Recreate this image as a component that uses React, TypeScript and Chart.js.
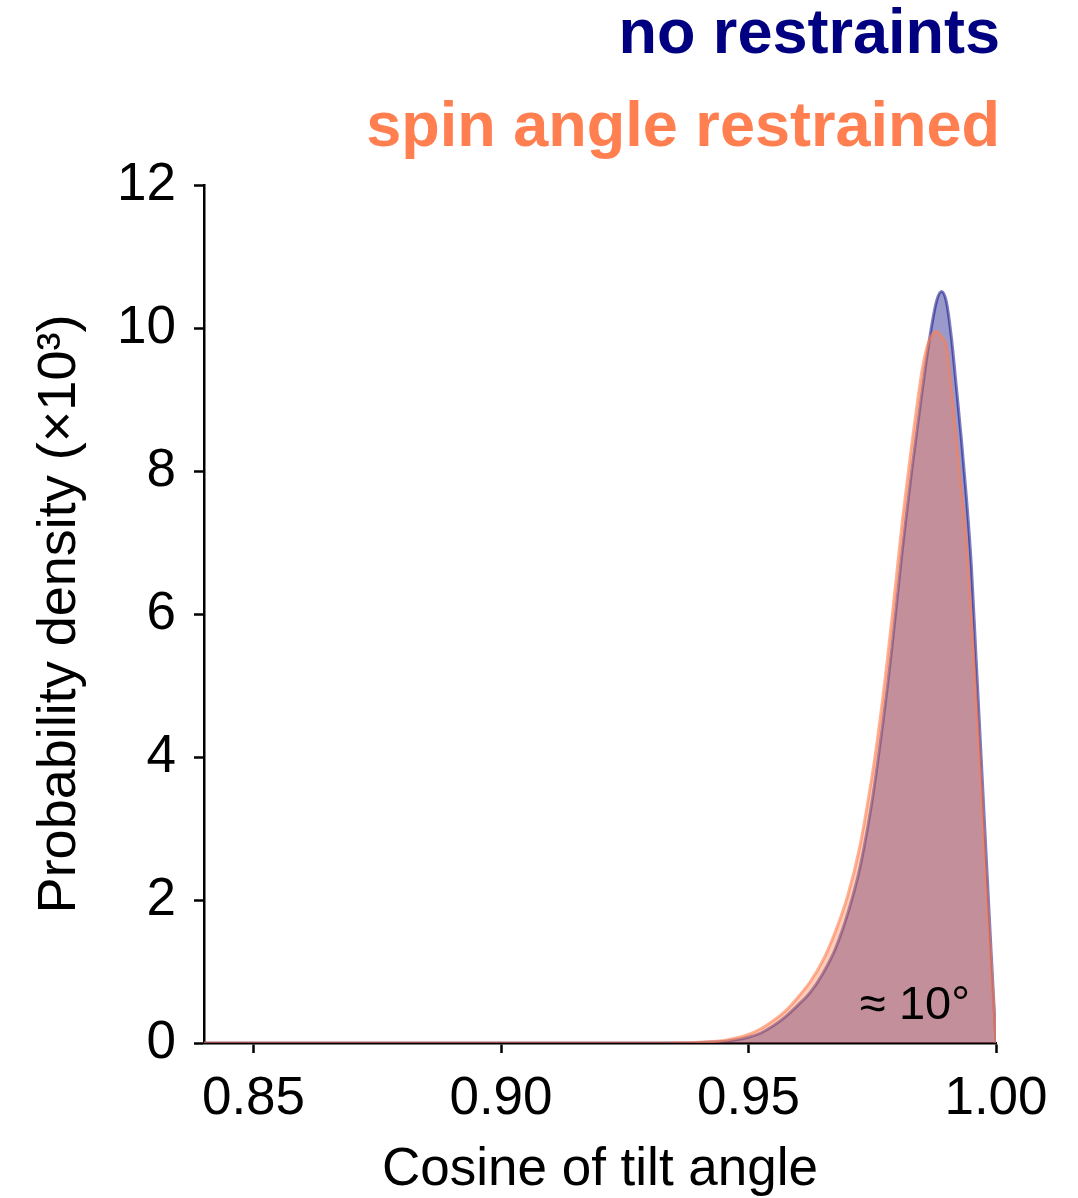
import React, { useEffect, useRef } from "react";
import { Chart, registerables } from "chart.js";

Chart.register(...registerables);

// Cosine of tilt angle (x positions of the density samples)
const cosTilt = [
  0.84, 0.88, 0.92, 0.93, 0.94, 0.945, 0.9475, 0.95, 0.9525, 0.955, 0.9575, 0.96,
  0.9625, 0.965, 0.9675, 0.97, 0.9725, 0.975, 0.976, 0.977, 0.978, 0.979, 0.98,
  0.981, 0.982, 0.983, 0.984, 0.985, 0.986, 0.987, 0.988, 0.989, 0.99, 0.991,
  0.992, 0.993, 0.994, 0.995, 0.996, 0.997, 0.998, 0.999, 1.0,
];

// Probability density (x10^3), no restraints
const densityNoRestraints = [
  0, 0, 0, 0, 0.005, 0.02, 0.045, 0.08, 0.14, 0.24, 0.37, 0.53,
  0.71, 0.97, 1.31, 1.8, 2.45, 3.4, 3.88, 4.4, 4.95, 5.55, 6.2,
  6.85, 7.45, 8.02, 8.55, 9.08, 9.58, 10.03, 10.38, 10.51, 10.36, 9.86,
  9.17, 8.45, 7.65, 6.7, 5.35, 4.0, 2.64, 1.3, 0.0,
];

// Probability density (x10^3), spin angle restrained
const densitySpinRestrained = [
  0, 0, 0, 0, 0.01, 0.035, 0.07, 0.12, 0.2, 0.31, 0.45, 0.64,
  0.86, 1.15, 1.55, 2.05, 2.75, 3.75, 4.22, 4.75, 5.33, 5.95, 6.6,
  7.25, 7.82, 8.38, 8.9, 9.38, 9.72, 9.9, 9.95, 9.88, 9.74, 9.13,
  8.45, 7.72, 6.98, 5.96, 4.8, 3.62, 2.25, 1.12, 0.0,
];

const xTicks = [0.85, 0.9, 0.95, 1.0];
const yTicks = [0, 2, 4, 6, 8, 10, 12];
const seriesLabels = ["no restraints", "spin angle restrained"];
const annotationText = "\u2248 10\u00b0";
const xTitle = "Cosine of tilt angle";
const yTitle = "Probability density (\u00d710\u00b3)";

const FONT = '"Liberation Sans", Arial, Helvetica, sans-serif';

export default function App() {
  const canvasRef = useRef<HTMLCanvasElement | null>(null);

  useEffect(() => {
    const canvas = canvasRef.current;
    if (!canvas) return;

    const textPlugin = {
      id: "headerTexts",
      afterDraw(chart: any) {
        const { ctx, chartArea } = chart;
        ctx.save();
        ctx.textAlign = "right";
        ctx.textBaseline = "alphabetic";
        ctx.font = `bold 63px ${FONT}`;
        ctx.fillStyle = "#000080";
        ctx.fillText(seriesLabels[0], chartArea.right + 4, 53);
        ctx.fillStyle = "#FF7F50";
        ctx.fillText(seriesLabels[1], chartArea.right + 4, 146);
        ctx.font = `47px ${FONT}`;
        ctx.fillStyle = "#000000";
        ctx.fillText(annotationText, chartArea.right - 26, chartArea.bottom - 24);
        ctx.restore();
      },
    };

    const chart = new Chart(canvas, {
      type: "line",
      data: {
        datasets: [
          {
            label: seriesLabels[0],
            data: cosTilt.map((x, i) => ({ x, y: densityNoRestraints[i] })),
            borderColor: "rgba(0,0,128,0.5)",
            backgroundColor: "rgba(0,0,128,0.4)",
            borderWidth: 3,
            pointRadius: 0,
            fill: "origin",
            cubicInterpolationMode: "monotone",
            order: 2,
          },
          {
            label: seriesLabels[1],
            data: cosTilt.map((x, i) => ({ x, y: densitySpinRestrained[i] })),
            borderColor: "rgba(255,127,80,0.6)",
            backgroundColor: "rgba(255,127,80,0.4)",
            borderWidth: 3,
            pointRadius: 0,
            fill: "origin",
            cubicInterpolationMode: "monotone",
            order: 1,
          },
        ],
      },
      options: {
        animation: false,
        responsive: true,
        maintainAspectRatio: false,
        layout: { padding: { top: 185, right: 82, left: 0, bottom: 0 } },
        plugins: {
          legend: { display: false },
          tooltip: { enabled: false },
          title: { display: false },
        },
        scales: {
          x: {
            type: "linear",
            min: 0.84,
            max: 1.0,
            afterBuildTicks: (scale: any) => {
              scale.ticks = xTicks.map((v) => ({ value: v }));
            },
            afterFit: (scale: any) => {
              scale.height = 155;
            },
            ticks: {
              color: "#000",
              font: { family: FONT, size: 53 },
              padding: 15,
              maxRotation: 0,
              callback: (v: any) => Number(v).toFixed(2),
            },
            grid: {
              drawOnChartArea: false,
              drawTicks: true,
              tickLength: 10,
              tickWidth: 2.5,
              tickColor: "#000",
            },
            border: { display: true, color: "#000", width: 2.5 },
            title: {
              display: true,
              text: xTitle,
              color: "#000",
              font: { family: FONT, size: 53, lineHeight: 1.05 },
              padding: { top: 0, bottom: 0 },
            },
          },
          y: {
            type: "linear",
            min: 0,
            max: 12,
            afterBuildTicks: (scale: any) => {
              scale.ticks = yTicks.map((v) => ({ value: v }));
            },
            afterFit: (scale: any) => {
              scale.width = 204;
            },
            ticks: {
              color: "#000",
              font: { family: FONT, size: 53 },
              padding: 18,
            },
            grid: {
              drawOnChartArea: false,
              drawTicks: true,
              tickLength: 10,
              tickWidth: 2.5,
              tickColor: "#000",
            },
            border: { display: true, color: "#000", width: 2.5 },
            title: {
              display: true,
              text: yTitle,
              color: "#000",
              font: { family: FONT, size: 54 },
              padding: { top: 28, bottom: 0 },
            },
          },
        },
      },
      plugins: [textPlugin],
    });

    return () => chart.destroy();
  }, []);

  return (
    <div style={{ position: "absolute", left: 0, top: 0, width: 1078, height: 1198, background: "#fff" }}>
      <canvas ref={canvasRef} />
    </div>
  );
}
